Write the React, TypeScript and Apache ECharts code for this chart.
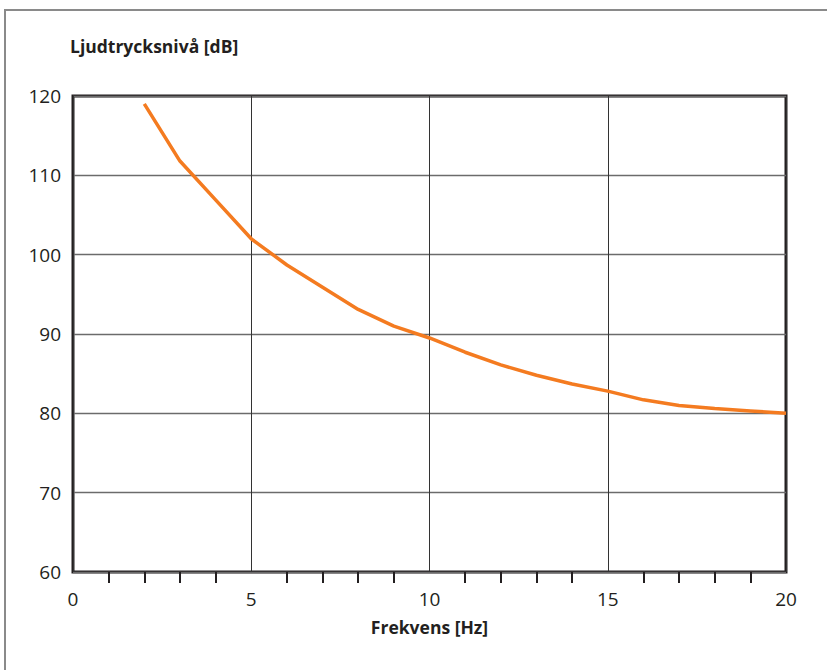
import React, { useEffect, useRef } from "react";
import * as echarts from "echarts";

const frequencies = [2, 3, 4, 5, 6, 7, 8, 9, 10, 11, 12, 13, 14, 15, 16, 17, 18, 19, 20];
const levels = [119, 111.8, 106.9, 102, 98.7, 95.9, 93.1, 91, 89.5, 87.7, 86.1, 84.8, 83.7, 82.8, 81.7, 81, 80.6, 80.3, 80];
const xTitle = "Frekvens [Hz]";
const yTitle = "Ljudtrycksnivå [dB]";

const FONT = "'Open Sans', 'Noto Sans', sans-serif";

export default function App() {
  const ref = useRef<HTMLDivElement>(null);
  useEffect(() => {
    if (!ref.current) return;
    const chart = echarts.init(ref.current, undefined, { renderer: "svg" });
    chart.setOption({
      animation: false,
      backgroundColor: "#ffffff",
      graphic: [
        {
          type: "rect",
          shape: { x: 5, y: 10, width: 900, height: 800 },
          style: { fill: "none", stroke: "#8a8a8a", lineWidth: 2 },
          silent: true,
        },
      ],
      grid: {
        left: 73,
        right: 41,
        top: 96,
        bottom: 98,
        show: true,
        borderColor: "#231f20",
        borderWidth: 3,
        backgroundColor: "transparent",
      },
      xAxis: {
        type: "value",
        min: 0,
        max: 20,
        interval: 5,
        name: xTitle,
        nameLocation: "middle",
        nameGap: 46,
        nameTextStyle: { fontFamily: FONT, fontSize: 17.5, fontWeight: "bold", color: "#231f20" },
        axisLine: { show: false },
        axisTick: { show: false },
        minorTick: { show: true, splitNumber: 5, length: 11, lineStyle: { color: "#231f20", width: 2 } },
        axisLabel: { fontFamily: FONT, fontSize: 19, color: "#231f20", margin: 17 },
        splitLine: { show: true, lineStyle: { color: "#333333", width: 1 } },
      },
      yAxis: {
        type: "value",
        min: 60,
        max: 120,
        interval: 10,
        name: yTitle,
        nameLocation: "end",
        nameGap: 41,
        nameTextStyle: { fontFamily: FONT, fontSize: 17.5, fontWeight: "bold", color: "#231f20", align: "left", padding: [0, 0, 0, -3] },
        axisLine: { show: false },
        axisTick: { show: false },
        axisLabel: { fontFamily: FONT, fontSize: 19, color: "#231f20", margin: 12, padding: [0, 0, 9, 0] },
        splitLine: { show: true, lineStyle: { color: "#6b6b6b", width: 1.3 } },
      },
      series: [
        {
          type: "line",
          data: frequencies.map((f, i) => [f, levels[i]]),
          showSymbol: false,
          smooth: false,
          lineStyle: { color: "#f47b20", width: 3.5 },
        },
      ],
    });
    return () => chart.dispose();
  }, []);
  return (
    <div
      ref={ref}
      style={{ position: "fixed", left: 0, top: 0, width: 827, height: 670 }}
    />
  );
}
